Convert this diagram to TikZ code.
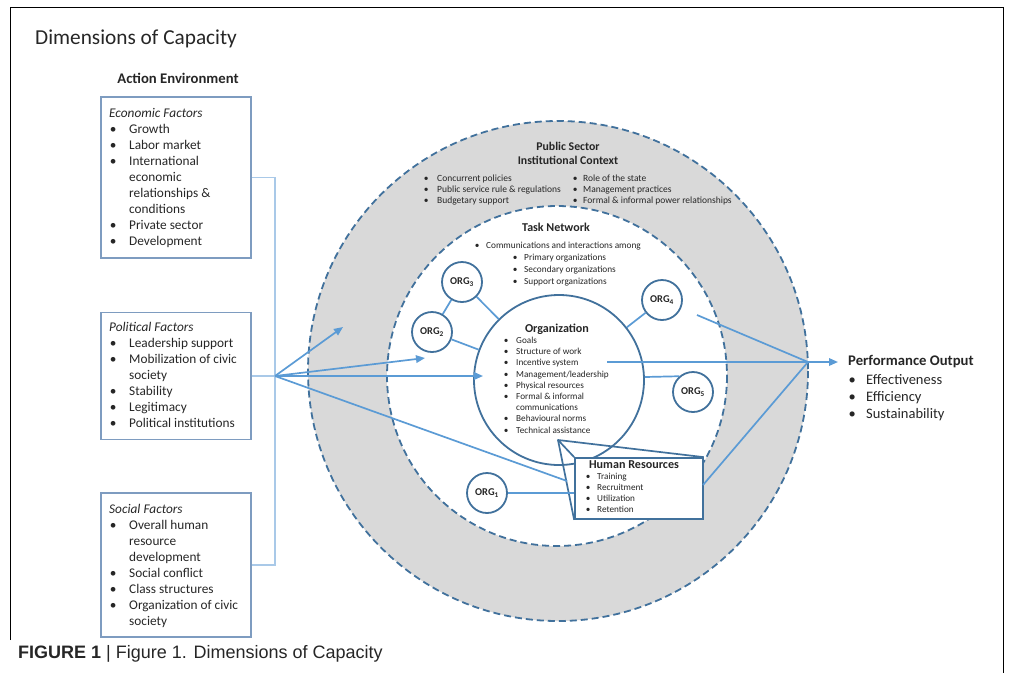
\documentclass[tikz,border=0pt]{standalone}
\usepackage{fontspec}
\setmainfont{Carlito}
\newfontfamily\capfont{Liberation Sans}
\usetikzlibrary{arrows.meta}
\definecolor{txt}{HTML}{262626}
\definecolor{arrowblue}{HTML}{5B9BD5}
\definecolor{lightblue}{HTML}{A9C9E8}
\definecolor{boxblue}{HTML}{7E9CC0}
\definecolor{darkblue}{HTML}{41719C}
\definecolor{ringgray}{HTML}{D9D9D9}
\newcommand{\bul}{\makebox[8pt]{\textbullet}\hspace*{12pt}}
\newcommand{\nob}{\hspace*{20pt}}
\newcommand{\sbul}{\makebox[6pt]{\textbullet}\hspace*{6pt}}
\tikzset{
  factbox/.style={draw=boxblue, line width=1.7pt, minimum width=150pt, inner sep=0pt},
  facttext/.style={anchor=north west, align=left, inner sep=0pt, text=txt, font=\fontsize{13.3}{16}\selectfont},
  smalltext/.style={anchor=north west, align=left, inner sep=0pt, text=txt},
  orgnode/.style={circle, draw=darkblue, line width=1.8pt, fill=white, minimum size=40pt, inner sep=0pt, text=txt, font=\fontsize{10.4}{11}\selectfont\bfseries},
  link/.style={arrowblue, line width=1.7pt},
  arr/.style={arrowblue, line width=1.7pt, -{Triangle[length=9pt,width=7.5pt]}},
  ringline/.style={darkblue, line width=1.8pt, dash pattern=on 7pt off 4pt},
}
\begin{document}
\begin{tikzpicture}[x=1pt, y=-1pt]
\useasboundingbox (0,0) rectangle (1011,673);
% frame
\draw[line width=0.9pt, black] (10,640) -- (10,7) -- (1003,7) -- (1003,673);
% title
\node[anchor=west, text=txt, font=\fontsize{21.3}{23}\selectfont, inner sep=0pt] (title) at (35,39) {Dimensions of Capacity};
\node[text=txt, font=\fontsize{14.7}{16}\selectfont\bfseries, inner sep=0pt] (actenv) at (178,78) {Action Environment};
% caption
\node[anchor=west, inner sep=0pt, text=black!85, font=\capfont\fontsize{18}{20}\selectfont] (caption) at (18,654) {\textbf{FIGURE 1} | Figure 1. Dimensions of Capacity};

% rings
\fill[ringgray] (558,371) circle (250);
\fill[white] (557,376) circle (170);
\draw[ringline] (558,371) circle (250);
\draw[ringline] (557,376) circle (170);

% factor boxes
\node[factbox, minimum height=161pt] (eco) at (176,177.5) {};
\node[facttext] (ecot) at (109,108.5) {\textit{Economic Factors}\\ \bul Growth\\ \bul Labor market\\ \bul International\\ \nob economic\\ \nob relationships \&\\ \nob conditions\\ \bul Private sector\\ \bul Development};
\node[factbox, minimum height=127pt] (pol) at (176,376) {};
\node[facttext] (polt) at (109,322.5) {\textit{Political Factors}\\ \bul Leadership support\\ \bul Mobilization of civic\\ \nob society\\ \bul Stability\\ \bul Legitimacy\\ \bul Political institutions};
\node[factbox, minimum height=144pt] (soc) at (176,565) {};
\node[facttext] (soct) at (109,504.5) {\textit{Social Factors}\\ \bul Overall human\\ \nob resource\\ \nob development\\ \bul Social conflict\\ \bul Class structures\\ \bul Organization of civic\\ \nob society};

% bracket
\coordinate (P) at (275,376);
\draw[lightblue, line width=1.4pt] (eco.east) -- (275,177.5) -- (275,565) -- (soc.east);
\draw[lightblue, line width=1.4pt] (pol.east) -- (P);

% public sector text
\node[text=txt, font=\fontsize{11.8}{14}\selectfont\bfseries, align=center, inner sep=0pt] (pstitle) at (568,153) {Public Sector\\ Institutional Context};
\node[smalltext, font=\fontsize{9.5}{11}\selectfont] (psl) at (423,174.5) {\makebox[6pt]{\textbullet}\hspace*{8pt}Concurrent policies\\ \makebox[6pt]{\textbullet}\hspace*{8pt}Public service rule \& regulations\\ \makebox[6pt]{\textbullet}\hspace*{8pt}Budgetary support};
\node[smalltext, font=\fontsize{9.5}{11}\selectfont] (psr) at (572,174.5) {\makebox[6pt]{\textbullet}\hspace*{5pt}Role of the state\\ \makebox[6pt]{\textbullet}\hspace*{5pt}Management practices\\ \makebox[6pt]{\textbullet}\hspace*{5pt}Formal \& informal power relationships};

% task network
\node[text=txt, font=\fontsize{12}{13}\selectfont\bfseries, inner sep=0pt] (tntitle) at (556,227) {Task Network};
\node[smalltext, font=\fontsize{9.3}{12}\selectfont] (tnt) at (474,242) {\sbul Communications and interactions among\\ \hspace*{38pt}\sbul Primary organizations\\ \hspace*{38pt}\sbul Secondary organizations\\ \hspace*{38pt}\sbul Support organizations};

% organization
\node[circle, draw=darkblue, line width=1.8pt, minimum size=170pt, inner sep=0pt] (org) at (559,380) {};
\node[text=txt, font=\fontsize{12.1}{13}\selectfont\bfseries, inner sep=0pt] (orgtitle) at (557,329) {Organization};
\node[smalltext, font=\fontsize{9.2}{11.2}\selectfont] (orgt) at (503,337) {\makebox[6pt]{\textbullet}\hspace*{7pt}Goals\\ \makebox[6pt]{\textbullet}\hspace*{7pt}Structure of work\\ \makebox[6pt]{\textbullet}\hspace*{7pt}Incentive system\\ \makebox[6pt]{\textbullet}\hspace*{7pt}Management/leadership\\ \makebox[6pt]{\textbullet}\hspace*{7pt}Physical resources\\ \makebox[6pt]{\textbullet}\hspace*{7pt}Formal \& informal\\ \hspace*{13pt}communications\\ \makebox[6pt]{\textbullet}\hspace*{7pt}Behavioural norms\\ \makebox[6pt]{\textbullet}\hspace*{7pt}Technical assistance};

% ORG nodes
\node[orgnode] (org3) at (462,282) {ORG\textsubscript{3}};
\node[orgnode] (org2) at (432,332) {ORG\textsubscript{2}};
\node[orgnode] (org4) at (662,300) {ORG\textsubscript{4}};
\node[orgnode] (org5) at (693,392) {ORG\textsubscript{5}};
\node[orgnode] (org1) at (487,493) {ORG\textsubscript{1}};
\draw[link] (org3) -- (org2);
\draw[link] (org3) -- (org);
\draw[link] (org2) -- (org);
\draw[link] (org4) -- (org);
\draw[link] (org.2) -- (org5.131);

% human resources callout
\coordinate (apex) at (558,440);
\node[draw=darkblue, line width=1.7pt, fill=white, minimum width=128pt, minimum height=61pt, inner sep=0pt] (hr) at (639,488.5) {};
\draw[darkblue, line width=1.7pt, line join=round] (hr.north west) -- (apex) -- (hr.north east);
\draw[darkblue, line width=1.7pt] (apex) -- (hr.south west);
\node[text=txt, font=\fontsize{12.1}{13}\selectfont\bfseries, inner sep=0pt] (hrtitle) at (634,465) {Human Resources};
\node[smalltext, font=\fontsize{9.2}{11}\selectfont] (hrt) at (585,473) {\makebox[6pt]{\textbullet}\hspace*{6pt}Training\\ \makebox[6pt]{\textbullet}\hspace*{6pt}Recruitment\\ \makebox[6pt]{\textbullet}\hspace*{6pt}Utilization\\ \makebox[6pt]{\textbullet}\hspace*{6pt}Retention};
\draw[link] (org1) -- (org1 -| hr.west);

% arrows from action environment
\coordinate (a1) at (343,327);
\coordinate (a2) at (425,358);
\coordinate (a3) at (483,376);
\coordinate (a4) at (567,481);
\draw[arr] (P) -- (a1);
\draw[arr] (P) -- (a2);
\draw[arr] (P) -- (a3);
\draw[link] (P) -- (a4);

% arrows to performance output
\coordinate (C) at (808,362);
\coordinate (s1) at (697,315);
\coordinate (s2) at (607,362);
\coordinate (hrout) at (703,485);
\draw[link] (s1) -- (C);
\draw[link] (hrout) -- (C);
\draw[arr] (s2) -- (C) -- (838,362);

% performance output
\node[anchor=west, text=txt, font=\fontsize{14.7}{16}\selectfont\bfseries, inner sep=0pt] (perf) at (848,362) {Performance Output};
\node[smalltext, font=\fontsize{14.5}{17}\selectfont] (perft) at (848,374) {\makebox[8pt]{\textbullet}\hspace*{10pt}Effectiveness\\ \makebox[8pt]{\textbullet}\hspace*{10pt}Efficiency\\ \makebox[8pt]{\textbullet}\hspace*{10pt}Sustainability};
\end{tikzpicture}
\end{document}
